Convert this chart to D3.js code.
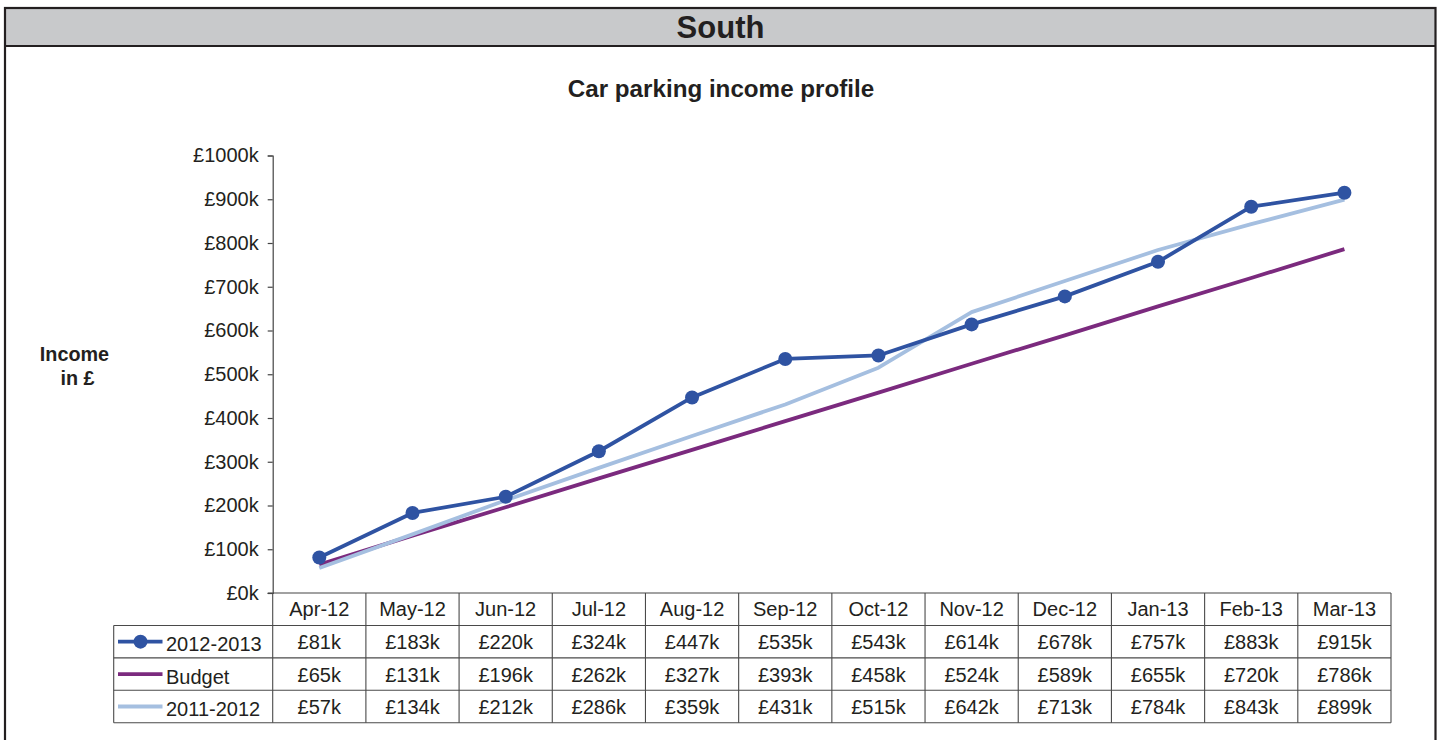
<!DOCTYPE html>
<html>
<head>
<meta charset="utf-8">
<script src="https://cdn.jsdelivr.net/npm/d3@7"></script>
<style>
  html, body { margin: 0; padding: 0; background: #fff; }
  svg { display: block; font-family: "Liberation Sans", Arial, Helvetica, sans-serif; }
</style>
</head>
<body>
<div id="chart"></div>
<script>
// ---- data ----
const months = ["Apr-12","May-12","Jun-12","Jul-12","Aug-12","Sep-12","Oct-12","Nov-12","Dec-12","Jan-13","Feb-13","Mar-13"];
const income2012_13 = [81, 183, 220, 324, 447, 535, 543, 614, 678, 757, 883, 915];
const budget = [65, 131, 196, 262, 327, 393, 458, 524, 589, 655, 720, 786];
const income2011_12 = [57, 134, 212, 286, 359, 431, 515, 642, 713, 784, 843, 899];
const seriesNames = ["2012-2013", "Budget", "2011-2012"];
const yTicks = [0, 100, 200, 300, 400, 500, 600, 700, 800, 900, 1000];
const panelTitle = "South";
const chartTitle = "Car parking income profile";
const yAxisTitle = ["Income", "in £"];

// ---- setup ----
const W = 1441, H = 740;
const textColor = "#231f20";
const fs = 20;
const colors = { "2012-2013": "#2f53a2", "Budget": "#7b2a7e", "2011-2012": "#a5bfe0" };
const series = [
  { name: seriesNames[0], values: income2012_13, marker: true },
  { name: seriesNames[1], values: budget, marker: false },
  { name: seriesNames[2], values: income2011_12, marker: false }
];

const svg = d3.select("#chart").append("svg").attr("width", W).attr("height", H);

// frame + title bar
svg.append("rect").attr("x", 5).attr("y", 8).attr("width", 1430.5).attr("height", 38)
  .attr("fill", "#c8c9cb");
svg.append("rect").attr("x", 5).attr("y", 8).attr("width", 1430.5).attr("height", 800)
  .attr("fill", "none").attr("stroke", "#231f20").attr("stroke-width", 2.2);
svg.append("line").attr("x1", 5).attr("x2", 1435.5).attr("y1", 46).attr("y2", 46)
  .attr("stroke", "#231f20").attr("stroke-width", 2.2);
svg.append("text").attr("x", 720.5).attr("y", 37.5).attr("text-anchor", "middle")
  .attr("font-size", 31).attr("font-weight", "bold").attr("fill", textColor).text(panelTitle);

// chart title
svg.append("text").attr("x", 721).attr("y", 97).attr("text-anchor", "middle")
  .attr("font-size", 24.2).attr("font-weight", "bold").attr("fill", textColor).text(chartTitle);

// y axis title
const yt = svg.append("text").attr("text-anchor", "middle").attr("font-size", 19.8)
  .attr("font-weight", "bold").attr("fill", textColor);
yt.append("tspan").attr("x", 74.5).attr("y", 360.5).text(yAxisTitle[0]);
yt.append("tspan").attr("x", 77.5).attr("y", 385).text(yAxisTitle[1]);

// scales
const plotLeft = 272.7, plotRight = 1391, plotTop = 155.5, plotBottom = 593;
const x = d3.scaleBand().domain(months).range([plotLeft, plotRight]).padding(0);
const y = d3.scaleLinear().domain([0, 1000]).range([plotBottom, plotTop]);
const xc = m => x(m) + x.bandwidth() / 2;

// y axis
const yAxis = d3.axisLeft(y).tickValues(yTicks).tickSize(5).tickPadding(9)
  .tickFormat(d => "£" + d + "k");
const yg = svg.append("g").attr("transform", `translate(${plotLeft},0)`).call(yAxis);
yg.select(".domain").attr("stroke", "#444").attr("stroke-width", 1.2);
yg.selectAll(".tick line").attr("stroke", "#444").attr("stroke-width", 1.2);
yg.selectAll(".tick text").attr("font-size", fs).attr("fill", textColor)
  .attr("font-family", "'Liberation Sans', Arial, sans-serif");

// x axis line (extends to left with tick)
svg.append("line").attr("x1", plotLeft - 5).attr("x2", plotRight).attr("y1", plotBottom).attr("y2", plotBottom)
  .attr("stroke", "#444").attr("stroke-width", 1.2);

// lines
const lineGen = d3.line().x((d, i) => xc(months[i])).y(d => y(d));
// draw in order: budget, 2011-2012, 2012-2013 on top
[series[1], series[2], series[0]].forEach(s => {
  svg.append("path").datum(s.values).attr("d", lineGen)
    .attr("fill", "none").attr("stroke", colors[s.name]).attr("stroke-width", 3.8)
    .attr("stroke-linejoin", "round");
  if (s.marker) {
    svg.append("g").selectAll("circle").data(s.values).join("circle")
      .attr("cx", (d, i) => xc(months[i])).attr("cy", d => y(d)).attr("r", 7)
      .attr("fill", colors[s.name]);
  }
});

// data table
const tableLeft = 113.7, tableBottom = 722.7;
const rows = d3.scaleBand().domain(["header"].concat(seriesNames)).range([plotBottom, tableBottom]);
const gridColor = "#4a4a4a";
const tg = svg.append("g");
// horizontal lines
seriesNames.forEach(r => {
  tg.append("line").attr("x1", tableLeft).attr("x2", plotRight).attr("y1", rows(r)).attr("y2", rows(r))
    .attr("stroke", gridColor).attr("stroke-width", 1.1);
});
tg.append("line").attr("x1", tableLeft).attr("x2", plotRight).attr("y1", tableBottom).attr("y2", tableBottom)
  .attr("stroke", gridColor).attr("stroke-width", 1.1);
// vertical lines
tg.append("line").attr("x1", tableLeft).attr("x2", tableLeft).attr("y1", rows(seriesNames[0])).attr("y2", tableBottom)
  .attr("stroke", gridColor).attr("stroke-width", 1.1);
months.concat(["end"]).forEach((m, i) => {
  const xx = i < months.length ? x(m) : plotRight;
  tg.append("line").attr("x1", xx).attr("x2", xx).attr("y1", plotBottom).attr("y2", tableBottom)
    .attr("stroke", gridColor).attr("stroke-width", 1.1);
});
// header text
tg.selectAll("text.hdr").data(months).join("text").attr("class", "hdr")
  .attr("x", d => xc(d)).attr("y", rows("header") + 23).attr("text-anchor", "middle")
  .attr("font-size", fs).attr("fill", textColor).text(d => d);
// values
series.forEach(s => {
  const ry = rows(s.name);
  tg.append("g").selectAll("text").data(s.values).join("text")
    .attr("x", (d, i) => xc(months[i])).attr("y", ry + 24).attr("text-anchor", "middle")
    .attr("font-size", fs).attr("fill", textColor).text(d => "£" + d + "k");
  // legend key
  tg.append("line").attr("x1", 118).attr("x2", 162.5).attr("y1", ry + rows.bandwidth() / 2).attr("y2", ry + rows.bandwidth() / 2)
    .attr("stroke", colors[s.name]).attr("stroke-width", 3.8);
  if (s.marker) {
    tg.append("circle").attr("cx", 140.5).attr("cy", ry + rows.bandwidth() / 2).attr("r", 7)
      .attr("fill", colors[s.name]);
  }
  tg.append("text").attr("x", 166).attr("y", ry + 26).attr("font-size", fs)
    .attr("fill", textColor).text(s.name);
});
</script>
</body>
</html>
